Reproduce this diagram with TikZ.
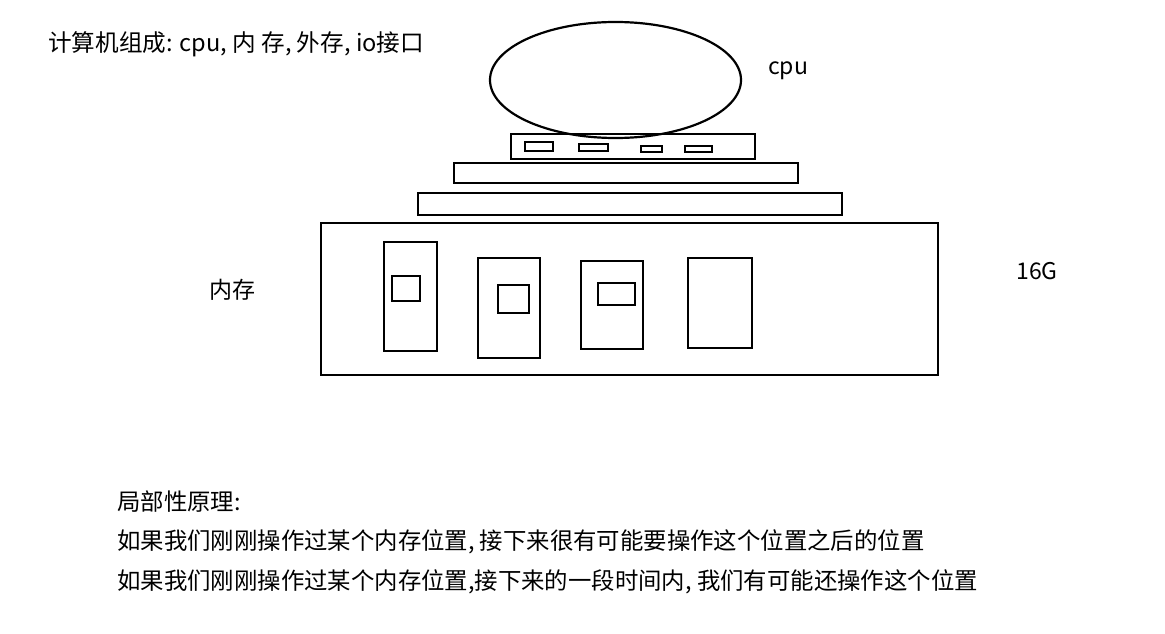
\documentclass[tikz,border=0pt]{standalone}
\usepackage{fontspec}
\usepackage{tikz}
\usetikzlibrary{positioning, shapes.geometric}
\newfontfamily\cjk{Noto Sans CJK SC}

\begin{document}
\begin{tikzpicture}[x=1pt, y=-1pt,
      part/.style={draw=black, line width=2.2pt},
      lbl/.style={font=\cjk\fontsize{23}{27}\selectfont, inner sep=0pt, text=black},
      note/.style={font=\cjk\fontsize{23.4}{28}\selectfont, inner sep=0pt, anchor=west, text=black}]
    \useasboundingbox[fill=white] (0,0) rectangle (1165,634);
    % title
    \node[lbl, anchor=west, font=\cjk\fontsize{23.6}{28}\selectfont] (title) at (48,44) {计算机组成: cpu, 内 存, 外存, io接口};
    % cpu and the boards under it
    \node[part, ellipse, minimum width=251pt, minimum height=116pt, inner sep=0pt] (cpu) at (615.5,80) {};
    \node[lbl] (cpulbl) at (788,71) {cpu};
    \draw[part] (511,134) rectangle (755,159);
    \draw[part, line width=1.7pt] (525,142) rectangle (553,151);
    \draw[part, line width=1.7pt] (579,144) rectangle (608,151);
    \draw[part, line width=1.7pt] (641,146) rectangle (662,152);
    \draw[part, line width=1.7pt] (685,146) rectangle (712,152);
    \draw[part] (454,163) rectangle (798,183);
    \draw[part] (418,193) rectangle (842,215);
    % memory
    \draw[part] (321,223) rectangle (938,375);
    \draw[part] (384,242) rectangle (437,351);
    \draw[part] (392,276) rectangle (420,301);
    \draw[part] (478,258) rectangle (540,358);
    \draw[part] (498,285) rectangle (529,313);
    \draw[part] (581,261) rectangle (643,349);
    \draw[part] (598,283) rectangle (635,305);
    \draw[part] (688,258) rectangle (752,348);
    \node[lbl] (mem) at (232,290) {内存};
    \node[lbl] (size) at (1037,271) {16G};
    % locality notes
    \node[note] (n0) at (117,502) {局部性原理:};
    \node[note] (n1) at (117,542) {如果我们刚刚操作过某个内存位置, 接下来很有可能要操作这个位置之后的位置};
    \node[note] (n2) at (117,582) {如果我们刚刚操作过某个内存位置,接下来的一段时间内, 我们有可能还操作这个位置};
\end{tikzpicture}
\end{document}
